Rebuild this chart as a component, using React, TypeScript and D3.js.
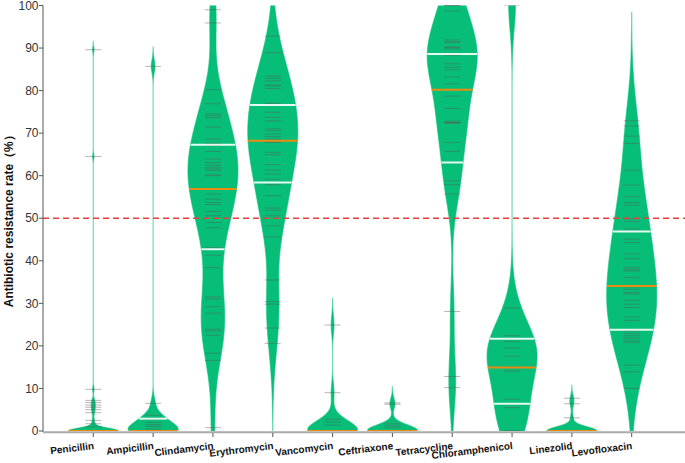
import React from 'react';
import * as d3 from 'd3';

const categories = ['Penicillin', 'Ampicillin', 'Clindamycin', 'Erythromycin', 'Vancomycin', 'Ceftriaxone', 'Tetracycline', 'Chloramphenicol', 'Linezolid', 'Levofloxacin'];

const penicillin = [0,0,0,0,0,0,0,0,0,0,0,0,0,0,0,0,0,0,0,0,0,0,0,0,0,0,0,0,0,0,0,0,0,0,0,0,1.0,1.7,2.5,4.3,5.0,5.6,6.1,6.7,7.2,9.8,64.5,89.6];
const ampicillin = [0,0,0,0,0,0,0,0,0,0,0.5,1.1,1.5,2.0,2.9,2.9,3.0,3.7,6.5,85.7];
const clindamycin = [99.0,95.9,80.2,76.9,74.5,74.1,73.6,71.4,68.6,67.6,67.1,65.7,63.9,63.1,62.5,62.0,61.6,61.2,60.2,60.0,56.9,55.7,54.5,53.7,53.2,51.6,50.6,49.0,47.8,43.1,41.3,38.4,31.5,31.0,29.2,27.7,23.9,23.5,22.5,18.3,16.6,0.8];
const erythromycin = [92.8,88.9,83.4,82.9,82.3,81.3,81.1,80.5,77.0,76.6,74.9,73.7,72.9,71.0,70.6,69.8,69.2,68.6,68.2,67.8,65.5,64.9,62.6,61.3,60.4,59.2,57.9,55.3,52.4,51.9,50.6,48.2,45.6,35.5,30.4,29.8,24.2,20.6];
const vancomycin = [0,0,0,0,0,0,0,0,0,0,0,0,0,0,0,0,1.4,2.1,2.75,9.0,24.9];
const ceftriaxone = [0,0,0,0,0,0,0,0,0,0,0,0,0,0,0,0,0,0,0.8,1.2,1.7,6.3,6.6];
const tetracycline = [100,100,100,100,98.7,91.9,91.4,91.4,90.2,90.2,89.8,88.6,88.4,88.4,86.3,85.5,84.9,83.2,81.6,80.2,78.7,75.8,72.8,72.5,72.5,72.3,67.8,65.7,63.1,58.8,57.9,55.7,28.1,12.8,10.2];
const chloramphenicol = [100,28.9,22.4,21.7,21.0,19.5,17.6,15.0,14.9,14.1,7.5,6.4,5.5,0,0];
const linezolid = [0,0,0,0,0,0,0,0,0,0,0,0,0,0,0,0,0,0,0,0,3.1,6.4,7.7];
const levofloxacin = [72.9,71.7,69.3,67.6,61.3,57.8,55.1,53.7,53.1,49.8,49.2,47.5,46.9,45.1,44.3,41.6,40.5,38.4,38.0,37.6,36.1,34.1,33.9,33.3,32.5,32.2,30.7,29.8,29.0,26.8,26.0,23.8,23.5,22.9,22.4,21.8,21.2,20.8,15.5,13.9,10.0];

const seriesValues = [penicillin, ampicillin, clindamycin, erythromycin, vancomycin, ceftriaxone, tetracycline, chloramphenicol, linezolid, levofloxacin];
const bandwidths = [0.65, 1.5, 7, 7.5, 2.1, 1.25, 6.5, 5.7, 1.0, 8.5];
const q1Values = [0, 0, 42.7, 58.4, 0, 0, 63.1, 6.4, 0, 23.8];
const medianValues = [0, 0, 56.9, 68.2, 0, 0, 80.2, 14.9, 0, 34.1];
const q3Values = [0, 2.9, 67.3, 76.6, 0, 0, 88.6, 21.7, 0, 46.9];
const yTicks = [0, 10, 20, 30, 40, 50, 60, 70, 80, 90, 100];
const threshold = 50;

const W = 685;
const H = 463;
const AXIS_X = 43;
const GREEN = '#06BE77';
const FONT = '"Liberation Sans", Arial, Helvetica, sans-serif';

function density(values: number[], bw: number, t: number) {
  return d3.sum(values, (v) => Math.exp(-0.5 * ((t - v) / bw) ** 2));
}

export default function App() {
  const y = d3.scaleLinear().domain([0, 100]).range([431, 5.5]);
  const x = d3.scalePoint<string>().domain(categories).range([93.3, 631.7]);
  const maxHalf = 25;

  const violins = categories.map((cat, i) => {
    const vals = seriesValues[i];
    const bw = bandwidths[i];
    const lo = (d3.min(vals) as number) - 3 * bw;
    const hi = (d3.max(vals) as number) + 3 * bw;
    const n = 1200;
    const grid = d3.range(n + 1).map((k) => lo + ((hi - lo) * k) / n);
    const dens = grid.map((t) => [t, density(vals, bw, t)] as [number, number]);
    const maxD = d3.max(dens, (d) => d[1]) as number;
    const cx = x(cat) as number;
    const hw = (d: number) => (maxHalf * d) / maxD;
    const area = d3
      .area<[number, number]>()
      .y((d) => y(d[0]))
      .x0((d) => cx - hw(d[1]))
      .x1((d) => cx + hw(d[1]));
    const qLine = (v: number) => {
      const w = hw(density(vals, bw, v));
      return { x1: cx - w, x2: cx + w, y: y(v) };
    };
    return { cat, cx, path: area(dens) as string, vals, q1: qLine(q1Values[i]), med: qLine(medianValues[i]), q3: qLine(q3Values[i]) };
  });

  return (
    <svg width={W} height={H} style={{ position: 'absolute', left: 0, top: 0, background: '#fff' }} fontFamily={FONT}>
      <defs>
        <clipPath id="plotClip">
          <rect x={AXIS_X} y={y(100)} width={W - AXIS_X} height={y(0) - y(100)} />
        </clipPath>
      </defs>
      <g clipPath="url(#plotClip)">
        {violins.map((v) => (
          <g key={v.cat}>
            <path d={v.path} fill={GREEN} stroke={GREEN} strokeOpacity={0.55} strokeWidth={1.2} />
            {v.vals.map((val, j) => (
              <line key={j} x1={v.cx - 8} x2={v.cx + 8} y1={y(val)} y2={y(val)} stroke="rgba(90,90,90,0.45)" strokeWidth={1} />
            ))}
            {[v.q1, v.q3].map((q, j) => (
              <line key={'q' + j} x1={q.x1} x2={q.x2} y1={q.y} y2={q.y} stroke="#fff" strokeOpacity={0.9} strokeWidth={2} />
            ))}
            <line x1={v.med.x1} x2={v.med.x2} y1={v.med.y} y2={v.med.y} stroke="#EE8A10" strokeWidth={2} />
          </g>
        ))}
      </g>
      <line x1={AXIS_X} x2={W} y1={y(threshold)} y2={y(threshold)} stroke="#F03C3C" strokeWidth={1.5} strokeDasharray="6,4" />
      <line x1={AXIS_X} x2={AXIS_X} y1={y(100)} y2={y(0) + 1} stroke="#555" strokeWidth={1} />
      {yTicks.map((t) => (
        <g key={t}>
          <line x1={AXIS_X - 4} x2={AXIS_X} y1={y(t)} y2={y(t)} stroke="#555" strokeWidth={1} />
          <text x={AXIS_X - 4.5} y={y(t)} dy="0.35em" textAnchor="end" fontSize={12} fill="#333">{t}</text>
        </g>
      ))}
      <line x1={AXIS_X} x2={W} y1={y(0) + 1.2} y2={y(0) + 1.2} stroke="#aaa" strokeWidth={2} />
      {categories.map((c) => {
        const cx = x(c) as number;
        return (
          <g key={c}>
            <line x1={cx} x2={cx} y1={y(0) + 2} y2={y(0) + 6} stroke="#555" strokeWidth={1} />
            <text x={cx + 1} y={449} textAnchor="end" fontSize={10} fontWeight="bold" fill="#111" transform={`rotate(-7, ${cx + 1}, 449)`}>{c}</text>
          </g>
        );
      })}
      <text transform={`translate(13, ${y(50)}) rotate(-90)`} textAnchor="middle" fontSize={12} fontWeight="bold" fill="#111">Antibiotic resistance rate（%）</text>
    </svg>
  );
}
